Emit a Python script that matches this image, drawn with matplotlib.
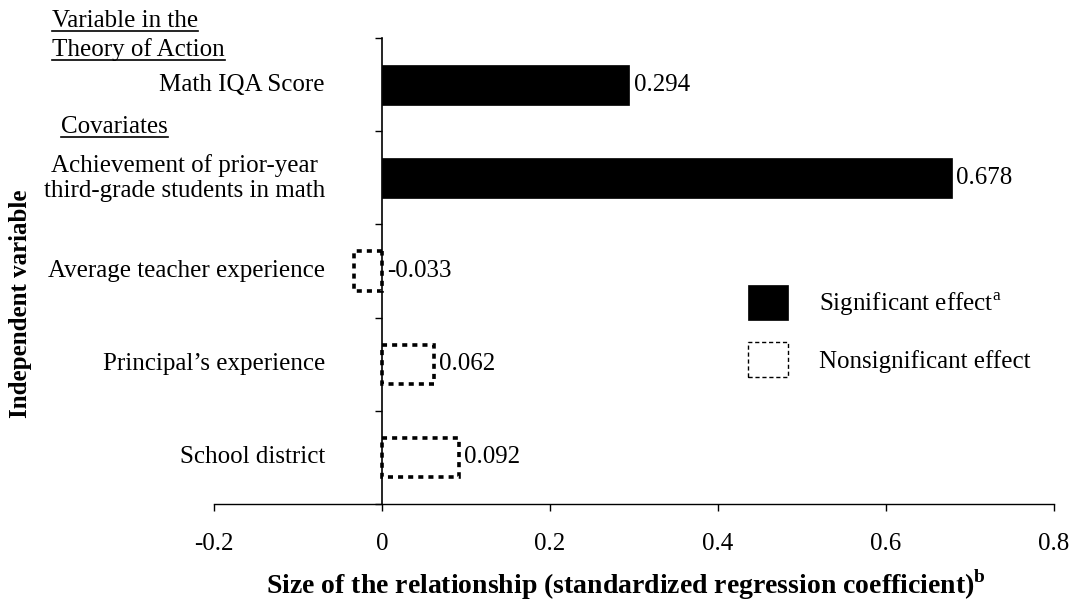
import matplotlib
matplotlib.use('Agg')
import matplotlib.pyplot as plt
from matplotlib.patches import Patch
from matplotlib.lines import Line2D

# data
categories = ['Math IQA Score',
              'Achievement of prior-year\nthird-grade students in math',
              'Average teacher experience',
              "Principal\u2019s experience",
              'School district']
coefficients = [0.294, 0.678, -0.033, 0.062, 0.092]
significant = [True, True, False, False, False]
x_ticks = [-0.2, 0, 0.2, 0.4, 0.6, 0.8]
x_tick_labels = ['-0.2', '0', '0.2', '0.4', '0.6', '0.8']

plt.rcParams['font.family'] = 'Liberation Serif'
plt.rcParams['mathtext.fontset'] = 'custom'
plt.rcParams['mathtext.rm'] = 'Liberation Serif'
plt.rcParams['mathtext.bf'] = 'Liberation Serif:bold'
FS = 18

fig = plt.figure(figsize=(10.73, 6.02), dpi=100)
ax = fig.add_axes([0.1994, 0.1628, 0.7829, 0.7741])

ypos = list(range(len(categories)))
for y, v, sig in zip(ypos, coefficients, significant):
    if sig:
        ax.barh(y, v, height=0.43, color='black', edgecolor='black', linewidth=0.5, zorder=3)
    else:
        ax.barh(y, v, height=0.42, facecolor='none', edgecolor='black',
                linewidth=2.6, linestyle=(0, (1.4, 1.4)), zorder=3)
    # value label sits right of the bar end (or right of zero for negatives)
    ax.annotate(f'{v:.3f}', xy=(max(v, 0), y), xytext=(3.5, 0), textcoords='offset points',
                ha='left', va='center', fontsize=FS)

# category labels on the left
for y, name in zip(ypos, categories):
    ax.text(-0.068, y, name, ha='right', va='center', multialignment='center', fontsize=FS)

ax.set_xlim(-0.2, 0.8)
ax.set_ylim(len(categories) - 0.5, -0.5)
ax.set_xticks(x_ticks)
ax.set_xticklabels(x_tick_labels, fontsize=FS)
ax.set_yticks([i - 0.5 for i in range(len(categories) + 1)])
ax.set_yticklabels([])

ax.spines['top'].set_visible(False)
ax.spines['right'].set_visible(False)
ax.spines['left'].set_position(('data', 0))
ax.spines['left'].set_linewidth(1.2)
ax.spines['bottom'].set_linewidth(1.0)
ax.tick_params(axis='x', direction='out', length=5, width=1, pad=16)
ax.tick_params(axis='y', direction='out', length=5, width=1)

fig.text(0.5834, 0.014, r'Size of the relationship (standardized regression coefficient)$^{\mathbf{b}}$',
         ha='center', va='baseline', fontsize=20, fontweight='bold')
fig.text(0.019, 0.495, 'Independent variable', rotation=90, ha='center', va='center',
         fontsize=18, fontweight='bold')

# legend
handles = [Patch(facecolor='black', edgecolor='black', linewidth=0.5),
           Patch(facecolor='white', edgecolor='black', linewidth=1.0, linestyle=(0, (3, 2)))]
ax.legend(handles, [r'Significant effect$^{\mathrm{a}}$', 'Nonsignificant effect'],
          loc='upper left', bbox_to_anchor=(0.636, 0.469), frameon=False, fontsize=FS,
          handlelength=1.6, handleheight=1.78, handletextpad=1.25, labelspacing=0.86,
          borderpad=0, borderaxespad=0)

# underlined group headings
headings = [('Variable in the', 0.0485, 0.9551),
            ('Theory of Action', 0.0485, 0.907),
            ('Covariates', 0.0569, 0.779)]
heading_texts = []
for txt, hx, hy in headings:
    heading_texts.append(fig.text(hx, hy, txt, ha='left', va='baseline', fontsize=FS))

fig.canvas.draw()
renderer = fig.canvas.get_renderer()
for t, (txt, hx, hy) in zip(heading_texts, headings):
    bb = t.get_window_extent(renderer).transformed(fig.transFigure.inverted())
    uy = hy - 4 / 602
    fig.add_artist(Line2D([bb.x0, bb.x1], [uy, uy], transform=fig.transFigure,
                          color='black', linewidth=1.2))

fig.savefig('out.png', dpi=100)
